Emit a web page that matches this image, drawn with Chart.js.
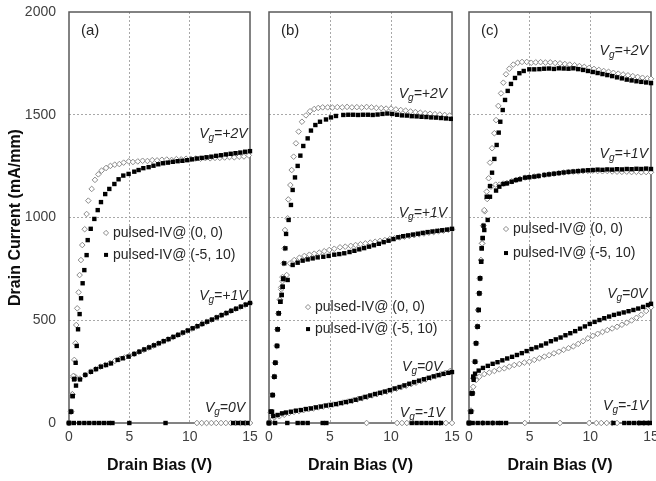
<!DOCTYPE html>
<html>
<head>
<meta charset="utf-8">
<script src="https://cdn.jsdelivr.net/npm/chart.js@4.4.1/dist/chart.umd.min.js"></script>
<style>
  html, body { margin: 0; padding: 0; background: #fff; }
  #wrap { position: relative; width: 656px; height: 481px; overflow: hidden; }
  #wrap canvas { position: absolute; left: 0; top: 0; }
</style>
</head>
<body>
<div id="wrap">
  <canvas id="chartA" width="656" height="481"></canvas>
  <canvas id="chartB" width="656" height="481"></canvas>
  <canvas id="chartC" width="656" height="481"></canvas>
</div>
<script>
// axis ticks and legend names
const xTicks = [0, 5, 10, 15];
const yTicks = [0, 500, 1000, 1500, 2000];
const seriesNames = ["pulsed-IV@ (0, 0)", "pulsed-IV@ (-5, 10)"];

// panel (a): [drain bias V, drain current mA/mm]
const aVg2Open = [[0,0],[0.17,55],[0.28,140],[0.36,229],[0.44,307],[0.53,388],[0.6,477],[0.68,558],[0.8,636],[0.88,720],[0.99,793],[1.1,866],[1.3,943],[1.46,1017],[1.6,1082],[1.88,1139],[2.15,1183],[2.43,1210],[2.7,1228],[3.07,1241],[3.43,1251],[3.79,1257],[4.17,1260],[4.53,1267],[4.95,1273],[5.3,1270],[5.7,1273],[6.1,1276],[6.5,1275],[6.9,1279],[7.3,1278],[7.7,1281],[8.1,1282],[8.5,1280],[8.9,1284],[9.3,1283],[9.7,1286],[10.1,1285],[10.5,1287],[10.9,1286],[11.3,1289],[11.7,1288],[12.1,1290],[12.5,1290],[12.9,1292],[13.3,1294],[13.7,1293],[14.1,1296],[14.5,1297],[14.9,1302]];
const aVg2Fill = [[0,0],[0.17,55],[0.3,131],[0.45,215],[0.55,293],[0.64,375],[0.75,456],[0.88,530],[1.0,607],[1.13,680],[1.27,744],[1.46,817],[1.55,890],[1.8,945],[2.1,993],[2.38,1036],[2.65,1075],[3.0,1114],[3.34,1139],[3.76,1163],[4.11,1186],[4.5,1204],[4.94,1212],[5.41,1223],[5.77,1231],[6.16,1240],[6.6,1245],[7.0,1252],[7.4,1259],[7.8,1264],[8.2,1267],[8.6,1271],[9.0,1274],[9.4,1276],[9.8,1279],[10.2,1283],[10.6,1287],[11.0,1290],[11.4,1293],[11.8,1296],[12.2,1300],[12.6,1303],[13.0,1307],[13.4,1310],[13.8,1313],[14.2,1316],[14.6,1320],[15,1323]];
const aVg1Open = [[0,0],[0.17,55],[0.28,140],[0.36,222],[0.5,226],[0.9,216],[1.35,234],[1.8,250],[2.2,262],[2.6,274],[3.0,283],[3.4,292],[3.8,302],[4.2,311],[4.6,319],[5.0,327],[5.4,336],[5.8,346],[6.2,356],[6.6,367],[7.0,377],[7.4,387],[7.8,397],[8.2,407],[8.6,417],[9.0,428],[9.4,438],[9.8,449],[10.2,459],[10.6,470],[11.0,481],[11.4,492],[11.8,502],[12.2,513],[12.6,524],[13.0,534],[13.4,545],[13.8,555],[14.2,565],[14.6,575],[15,583]];
const aVg1Fill = [[0,0],[0.17,55],[0.3,131],[0.42,212],[0.58,182],[0.91,212],[1.35,234],[1.82,249],[2.24,262],[2.65,274],[3.07,282],[3.48,290],[4.03,307],[4.45,315],[4.94,323],[5.41,336],[5.83,347],[6.24,358],[6.65,368],[7.05,378],[7.45,388],[7.85,398],[8.25,408],[8.65,419],[9.05,429],[9.45,440],[9.85,450],[10.25,461],[10.65,471],[11.05,482],[11.45,493],[11.85,503],[12.25,514],[12.65,525],[13.05,535],[13.45,546],[13.85,556],[14.25,566],[14.65,576],[15,584]];
const aVg0Open = [[0,0],[10.6,0],[11.0,0],[11.4,0],[11.8,0],[12.2,0],[12.6,0],[13.0,0],[13.4,0],[13.8,0],[14.2,0],[14.6,0],[15,0]];
const aVg0Fill = [[0,0],[0.4,0],[0.85,0],[1.27,0],[1.68,0],[2.1,0],[2.5,0],[2.9,0],[3.3,0],[3.6,0],[5,0],[8,0],[13.6,0],[14.0,0],[14.4,0],[14.8,0]];

// panel (b)
const bVg2Open = [[0,0],[0.16,50],[0.28,136],[0.42,225],[0.5,293],[0.63,375],[0.7,456],[0.78,534],[0.88,600],[1.0,660],[1.1,710],[1.2,777],[1.28,850],[1.31,939],[1.53,996],[1.58,1088],[1.75,1158],[1.86,1231],[2.02,1296],[2.21,1361],[2.43,1418],[2.7,1466],[3.03,1497],[3.36,1517],[3.71,1528],[4.04,1533],[4.4,1536],[4.81,1536],[5.2,1535],[5.6,1537],[6.0,1536],[6.4,1538],[6.8,1536],[7.2,1537],[7.6,1535],[8.0,1538],[8.4,1536],[8.8,1533],[9.2,1532],[9.6,1530],[10.0,1530],[10.4,1526],[10.8,1523],[11.2,1520],[11.6,1516],[12.0,1513],[12.4,1510],[12.8,1507],[13.2,1505],[13.6,1503],[14.0,1501],[14.4,1499],[14.8,1496]];
const bVg2Fill = [[0,0],[0.16,55],[0.3,136],[0.44,225],[0.52,293],[0.66,375],[0.71,456],[0.8,534],[0.93,590],[1.04,623],[1.12,663],[1.17,704],[1.25,777],[1.34,850],[1.4,920],[1.61,988],[1.8,1061],[1.94,1134],[2.13,1195],[2.35,1251],[2.57,1301],[2.81,1348],[3.17,1385],[3.44,1423],[3.8,1450],[4.18,1466],[4.67,1477],[5.08,1487],[5.49,1494],[6.09,1499],[6.5,1500],[6.9,1500],[7.3,1499],[7.7,1500],[8.1,1500],[8.5,1499],[8.9,1501],[9.3,1504],[9.7,1506],[10.1,1504],[10.5,1500],[10.9,1497],[11.3,1496],[11.7,1493],[12.1,1492],[12.5,1490],[12.9,1489],[13.3,1487],[13.7,1486],[14.1,1484],[14.5,1482],[14.9,1480]];
const bVg1Open = [[0,0],[0.16,50],[0.28,136],[0.42,225],[0.5,293],[0.63,375],[0.7,456],[0.78,534],[0.9,600],[1.0,650],[1.1,690],[1.45,720],[1.72,777],[2.07,793],[2.49,804],[2.9,813],[3.31,819],[3.71,824],[4.12,829],[4.53,836],[4.94,842],[5.35,848],[5.82,855],[6.25,858],[6.7,862],[7.1,866],[7.5,870],[7.9,874],[8.3,878],[8.7,882],[9.1,886],[9.5,890],[9.9,895],[10.3,899],[10.7,903],[11.1,907],[11.5,910],[11.9,914],[12.3,918],[12.7,922],[13.1,926],[13.5,929],[13.9,933],[14.3,936],[14.7,940],[15,942]];
const bVg1Fill = [[0,0],[0.16,55],[0.3,136],[0.44,225],[0.52,293],[0.66,375],[0.71,456],[0.8,534],[0.93,590],[1.04,623],[1.12,663],[1.17,700],[1.53,696],[1.94,769],[2.35,780],[2.76,790],[3.17,796],[3.58,801],[3.99,806],[4.45,809],[4.89,813],[5.35,819],[5.76,822],[6.17,826],[6.6,832],[7.0,838],[7.4,845],[7.8,851],[8.2,858],[8.6,865],[9.0,872],[9.4,880],[9.8,887],[10.2,895],[10.6,904],[11.0,909],[11.4,913],[11.8,917],[12.2,921],[12.6,925],[13.0,929],[13.4,932],[13.8,935],[14.2,938],[14.6,941],[15,945]];
const bVg0Open = [[0,0],[0.3,20],[0.44,28],[0.85,33],[1.25,40],[1.65,48],[2.05,54],[2.45,58],[2.85,63],[3.25,67],[3.65,71],[4.05,76],[4.45,80],[4.85,85],[5.25,90],[5.65,94],[6.05,99],[6.45,104],[6.85,109],[7.25,115],[7.65,121],[8.05,127],[8.45,134],[8.85,140],[9.25,147],[9.65,153],[10.05,160],[10.45,167],[10.85,174],[11.25,181],[11.65,189],[12.05,196],[12.45,204],[12.85,212],[13.25,220],[13.65,228],[14.05,236],[14.45,244],[14.85,253]];
const bVg0Fill = [[0,0],[0.25,55],[0.35,34],[0.71,39],[1.07,47],[1.39,51],[1.8,55],[2.21,60],[2.62,63],[3.03,68],[3.44,71],[3.85,76],[4.26,80],[4.67,85],[5.08,88],[5.49,92],[5.9,97],[6.3,102],[6.7,107],[7.1,113],[7.5,120],[7.9,127],[8.3,134],[8.7,141],[9.1,147],[9.5,153],[9.9,160],[10.3,168],[10.7,175],[11.1,183],[11.5,191],[11.9,199],[12.3,206],[12.7,213],[13.1,220],[13.5,227],[13.9,233],[14.3,239],[14.7,244],[15,248]];
const bVgm1Open = [[0,0],[8.0,0],[10.5,0],[10.9,0],[11.3,0],[14.0,0],[14.5,0],[15,0]];
const bVgm1Fill = [[0,0],[0.5,0],[1.5,0],[2.35,0],[2.76,0],[3.17,0],[4.4,0],[4.7,0],[11.7,0],[12.1,0],[12.5,0],[12.9,0],[13.3,0],[13.7,0],[14.1,0]];

// panel (c)
const cVg2Open = [[0,0],[0.16,60],[0.25,150],[0.35,217],[0.49,298],[0.58,388],[0.68,469],[0.75,550],[0.83,631],[0.9,704],[0.98,793],[1.08,874],[1.18,960],[1.26,1036],[1.46,1126],[1.62,1191],[1.73,1267],[1.9,1337],[2.09,1410],[2.23,1474],[2.42,1543],[2.64,1604],[2.83,1656],[3.05,1697],[3.32,1724],[3.65,1744],[4.01,1753],[4.37,1757],[4.76,1757],[5.13,1753],[5.5,1755],[5.9,1756],[6.3,1754],[6.7,1755],[7.1,1752],[7.5,1750],[7.9,1747],[8.3,1744],[8.7,1741],[9.1,1737],[9.5,1733],[9.9,1728],[10.3,1723],[10.7,1718],[11.1,1713],[11.5,1709],[11.9,1704],[12.3,1700],[12.7,1696],[13.1,1692],[13.5,1688],[13.9,1684],[14.3,1680],[14.7,1677],[15,1675]];
const cVg2Fill = [[0,0],[0.16,55],[0.22,144],[0.35,225],[0.5,298],[0.58,388],[0.71,469],[0.8,550],[0.85,631],[0.91,704],[1.0,785],[1.05,850],[1.13,900],[1.26,939],[1.54,988],[1.73,1101],[1.9,1218],[2.09,1285],[2.28,1353],[2.45,1413],[2.58,1466],[2.78,1523],[2.97,1572],[3.19,1616],[3.46,1650],[3.79,1679],[4.15,1702],[4.51,1713],[4.97,1721],[5.38,1721],[5.8,1722],[6.2,1724],[6.6,1725],[7.0,1723],[7.4,1726],[7.8,1725],[8.2,1724],[8.6,1726],[9.0,1722],[9.4,1718],[9.8,1713],[10.2,1708],[10.6,1703],[11.0,1698],[11.4,1693],[11.8,1688],[12.2,1682],[12.6,1677],[13.0,1671],[13.4,1667],[13.8,1663],[14.2,1660],[14.6,1657],[15,1654]];
const cVg1Open = [[0,0],[0.16,60],[0.25,150],[0.35,217],[0.49,298],[0.58,388],[0.68,469],[0.75,550],[0.83,631],[0.9,704],[0.98,793],[1.08,874],[1.18,960],[1.3,1030],[1.5,1090],[1.81,1150],[2.2,1160],[2.5,1160],[2.83,1165],[3.13,1168],[3.52,1176],[3.87,1183],[4.2,1188],[4.62,1194],[4.97,1197],[5.38,1200],[5.74,1203],[6.2,1207],[6.6,1210],[7.0,1213],[7.4,1216],[7.8,1219],[8.2,1221],[8.6,1223],[9.0,1224],[9.4,1226],[9.8,1227],[10.2,1228],[10.6,1226],[11.0,1225],[11.4,1226],[11.8,1224],[12.2,1223],[12.6,1222],[13.0,1223],[13.4,1221],[13.8,1222],[14.2,1220],[14.6,1221],[15,1220]];
const cVg1Fill = [[0,0],[0.16,55],[0.22,144],[0.35,225],[0.5,298],[0.58,388],[0.71,469],[0.8,550],[0.85,631],[0.91,704],[1.0,785],[1.05,850],[1.13,900],[1.2,960],[1.46,1101],[1.73,1153],[2.23,1131],[2.5,1150],[2.83,1163],[3.13,1166],[3.52,1174],[3.87,1182],[4.2,1186],[4.62,1194],[4.97,1196],[5.38,1199],[5.74,1202],[6.21,1207],[6.6,1210],[7.0,1213],[7.4,1216],[7.8,1219],[8.2,1222],[8.6,1224],[9.0,1226],[9.4,1228],[9.8,1230],[10.2,1231],[10.6,1233],[11.0,1232],[11.4,1234],[11.8,1233],[12.2,1235],[12.6,1234],[13.0,1236],[13.4,1235],[13.8,1237],[14.2,1236],[14.6,1238],[15,1236]];
const cVg0Open = [[0,0],[0.16,55],[0.25,144],[0.35,176],[0.58,209],[0.85,225],[1.26,238],[1.67,245],[2.09,253],[2.5,261],[2.91,266],[3.32,274],[3.73,282],[4.15,287],[4.56,294],[4.97,298],[5.38,307],[5.8,315],[6.21,323],[6.6,330],[7.0,339],[7.4,347],[7.8,356],[8.2,364],[8.6,373],[9.0,385],[9.4,398],[9.8,412],[10.2,424],[10.6,434],[11.0,443],[11.4,452],[11.8,460],[12.2,468],[12.6,478],[13.0,488],[13.4,499],[13.8,512],[14.2,527],[14.6,545],[15,563]];
const cVg0Fill = [[0,0],[0.16,55],[0.3,144],[0.38,210],[0.5,240],[0.8,255],[1.15,268],[1.55,278],[1.95,288],[2.35,296],[2.75,305],[3.15,314],[3.55,322],[3.95,331],[4.35,340],[4.75,350],[5.15,360],[5.55,368],[5.95,377],[6.35,387],[6.75,398],[7.15,407],[7.55,416],[7.95,427],[8.35,437],[8.75,447],[9.15,459],[9.55,470],[9.95,482],[10.35,492],[10.75,501],[11.15,510],[11.55,518],[11.95,526],[12.35,532],[12.75,538],[13.15,544],[13.55,550],[13.95,557],[14.35,565],[14.75,574],[15,580]];
const cVgm1Open = [[0,0],[1.13,0],[1.95,0],[4.6,0],[7.5,0],[9.9,0],[10.5,0],[10.9,0],[11.35,0],[11.8,0],[12.2,0],[14.0,0],[14.4,0],[14.8,0]];
const cVgm1Fill = [[0,0],[0.3,0],[0.72,0],[1.13,0],[1.54,0],[1.95,0],[2.37,0],[2.64,0],[3.05,0],[11.9,0],[12.8,0],[13.2,0],[13.6,0],[14.0,0],[14.3,0],[14.6,0],[14.9,0]];

const FONT = '"Liberation Sans", Arial, Helvetica, sans-serif';
const TEXT = "#262626";

function openSet(data) {
    return { label: seriesNames[0], data: data, order: 1, clip: false,
        pointStyle: "rectRot", pointRadius: 2.8, pointHoverRadius: 2.8,
        backgroundColor: "#fff", borderColor: "#8a8a8a", borderWidth: 1 };
}
function fillSet(data) {
    return { label: seriesNames[1], data: data, order: 0, clip: false,
        pointStyle: "rect", pointRadius: 3.1, pointHoverRadius: 3.1,
        backgroundColor: "#000", borderColor: "#000", borderWidth: 0 };
}

// box, panel tag, gate voltage labels and the small legend inside each panel
const panelDecor = {
    id: "panelDecor",
    beforeDatasetsDraw(chart) {
        const ctx = chart.ctx, a = chart.chartArea;
        ctx.save();
        ctx.strokeStyle = "#5a5a5a";
        ctx.lineWidth = 1.5;
        ctx.strokeRect(a.left, a.top, a.right - a.left, a.bottom - a.top);
        ctx.restore();
    },
    afterDatasetsDraw(chart, args, opts) {
        const ctx = chart.ctx, a = chart.chartArea;
        const sx = chart.scales.x, sy = chart.scales.y;
        ctx.save();
        ctx.fillStyle = TEXT;
        ctx.textBaseline = "middle";
        ctx.font = "15px " + FONT;
        ctx.fillText(opts.tag, a.left + 12, a.top + 19);

        const big = "italic 14px " + FONT, small = "italic 10px " + FONT;
        ctx.textBaseline = "alphabetic";
        opts.gates.forEach(g => {
            const right = sx.getPixelForValue(g.x);
            const base = sy.getPixelForValue(g.y) + 5;
            ctx.font = big;
            const wV = ctx.measureText("V").width, wR = ctx.measureText(g.text).width;
            ctx.font = small;
            const wg = ctx.measureText("g").width;
            let x = right - wV - wg - wR;
            ctx.font = big; ctx.fillText("V", x, base); x += wV;
            ctx.font = small; ctx.fillText("g", x, base + 3); x += wg;
            ctx.font = big; ctx.fillText(g.text, x, base);
        });

        const lx = sx.getPixelForValue(opts.legend.x);
        ctx.font = "14px " + FONT;
        ctx.textBaseline = "middle";
        opts.legend.y.forEach((yv, i) => {
            const ly = sy.getPixelForValue(yv);
            if (i === 0) {
                ctx.beginPath();
                ctx.moveTo(lx - 2.6, ly); ctx.lineTo(lx, ly - 2.6);
                ctx.lineTo(lx + 2.6, ly); ctx.lineTo(lx, ly + 2.6);
                ctx.closePath();
                ctx.fillStyle = "#fff"; ctx.fill();
                ctx.strokeStyle = "#8a8a8a"; ctx.lineWidth = 1; ctx.stroke();
            } else {
                ctx.fillStyle = "#000";
                ctx.fillRect(lx - 2, ly - 2, 4, 4);
            }
            ctx.fillStyle = TEXT;
            ctx.fillText(seriesNames[i], lx + 7, ly);
        });
        ctx.restore();
    }
};

function makePanel(id, cfg) {
    const opens = cfg.series.map(s => openSet(s[0]));
    const fills = cfg.series.map(s => fillSet(s[1]));
    return new Chart(document.getElementById(id), {
        type: "scatter",
        data: { datasets: fills.concat(opens) },
        plugins: [panelDecor],
        options: {
            responsive: false,
            animation: false,
            devicePixelRatio: 1,
            events: [],
            layout: { padding: { left: cfg.left, right: 656 - cfg.right, top: 12, bottom: 0 } },
            plugins: {
                legend: { display: false },
                tooltip: { enabled: false },
                panelDecor: cfg.decor
            },
            scales: {
                x: {
                    type: "linear", min: 0, max: 15,
                    afterBuildTicks: s => { s.ticks = xTicks.map(v => ({ value: v })); },
                    afterFit: s => { s.height = 58; s.paddingLeft = 0; s.paddingRight = 0; },
                    grid: {
                        drawTicks: false,
                        color: c => (c.tick && c.tick.value > 0 && c.tick.value < 15) ? "#a8a8a8" : "rgba(0,0,0,0)"
                    },
                    border: { display: false, dash: [2, 2] },
                    ticks: { padding: 6, color: "#404040", maxRotation: 0, font: { size: 14, family: FONT } },
                    title: {
                        display: true, text: "Drain Bias (V)", color: "#0d0d0d",
                        font: { size: 16, weight: "bold", family: FONT },
                        padding: { top: 0, bottom: 6 }
                    }
                },
                y: {
                    type: "linear", min: 0, max: 2000,
                    afterBuildTicks: s => { s.ticks = yTicks.map(v => ({ value: v })); },
                    afterFit: s => { s.width = cfg.yWidth; s.paddingTop = 0; s.paddingBottom = 0; },
                    grid: {
                        drawTicks: false,
                        color: c => (c.tick && c.tick.value > 0 && c.tick.value < 2000) ? "#a8a8a8" : "rgba(0,0,0,0)"
                    },
                    border: { display: false, dash: [2, 2] },
                    ticks: {
                        display: cfg.yWidth > 0, padding: 13, color: "#404040",
                        font: { size: 14, family: FONT },
                        callback: v => String(v)
                    },
                    title: {
                        display: cfg.yWidth > 0, text: "Drain Current (mA/mm)", color: "#0d0d0d",
                        font: { size: 16, weight: "bold", family: FONT },
                        padding: { top: 6, bottom: 0 }
                    }
                }
            }
        }
    });
}

makePanel("chartA", {
    left: 0, right: 250, yWidth: 69,
    series: [[aVg2Open, aVg2Fill], [aVg1Open, aVg1Fill], [aVg0Open, aVg0Fill]],
    decor: {
        tag: "(a)",
        gates: [{ x: 14.8, y: 1411, text: "=+2V" }, { x: 14.8, y: 623, text: "=+1V" }, { x: 14.6, y: 78, text: "=0V" }],
        legend: { x: 3.07, y: [925, 818] }
    }
});
makePanel("chartB", {
    left: 269, right: 452, yWidth: 0,
    series: [[bVg2Open, bVg2Fill], [bVg1Open, bVg1Fill], [bVg0Open, bVg0Fill], [bVgm1Open, bVgm1Fill]],
    decor: {
        tag: "(b)",
        gates: [{ x: 14.6, y: 1606, text: "=+2V" }, { x: 14.6, y: 1027, text: "=+1V" }, { x: 14.2, y: 277, text: "=0V" }, { x: 14.4, y: 54, text: "=-1V" }],
        legend: { x: 3.2, y: [564, 457] }
    }
});
makePanel("chartC", {
    left: 469, right: 651, yWidth: 0,
    series: [[cVg2Open, cVg2Fill], [cVg1Open, cVg1Fill], [cVg0Open, cVg0Fill], [cVgm1Open, cVgm1Fill]],
    decor: {
        tag: "(c)",
        gates: [{ x: 14.75, y: 1815, text: "=+2V" }, { x: 14.75, y: 1314, text: "=+1V" }, { x: 14.7, y: 633, text: "=0V" }, { x: 14.75, y: 88, text: "=-1V" }],
        legend: { x: 3.05, y: [944, 827] }
    }
});
</script>
</body>
</html>
